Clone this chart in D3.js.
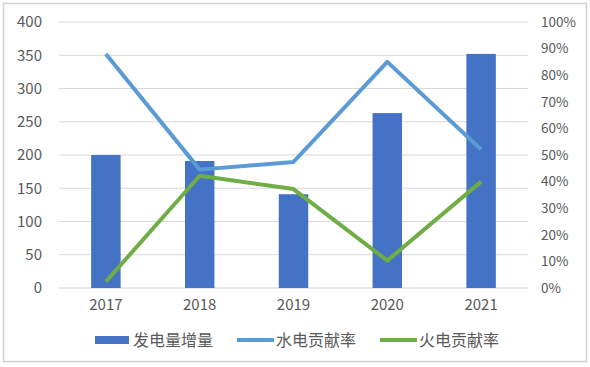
<!DOCTYPE html>
<html><head><meta charset="utf-8">
<script src="https://cdn.jsdelivr.net/npm/d3@7"></script>
<style>body{margin:0;background:#fff}svg{display:block}</style>
</head><body>
<script>
const years = ["2017","2018","2019","2020","2021"];
const genIncrease = [200, 191, 141, 263, 352];
const hydroRate = [0.88, 0.445, 0.474, 0.85, 0.521];
const thermalRate = [0.024, 0.422, 0.372, 0.103, 0.40];
const leftTicks = [0,50,100,150,200,250,300,350,400];
const rightTicks = [0,0.1,0.2,0.3,0.4,0.5,0.6,0.7,0.8,0.9,1.0];
const seriesNames = ["发电量增量","水电贡献率","火电贡献率"];

const W=590,H=367;
const m={left:59,right:528,top:22,bottom:288};
const font='"Noto Sans CJK SC", "Liberation Sans", sans-serif';
const svg=d3.select("body").append("svg").attr("width",W).attr("height",H);
svg.append("rect").attr("x",3.5).attr("y",3.5).attr("width",583).attr("height",358)
  .attr("fill","#fff").attr("stroke","#d0d0d0").attr("stroke-width",1.5);

const x=d3.scaleBand().domain(years).range([m.left,m.right]).paddingInner(0.686).paddingOuter(0.343);
const xc=d3.scaleBand().domain(years).range([m.left,m.right]);
const yL=d3.scaleLinear().domain([0,400]).range([m.bottom,m.top]);
const yR=d3.scaleLinear().domain([0,1]).range([m.bottom,m.top]);

// gridlines
svg.append("g").selectAll("line").data(leftTicks).join("line")
  .attr("x1",m.left).attr("x2",m.right).attr("y1",d=>yL(d)).attr("y2",d=>yL(d))
  .attr("stroke",d=>d===0?"#d0d0d0":"#d9d9d9").attr("stroke-width",1);

// left axis
const gl=svg.append("g").attr("transform",`translate(${m.left-17},0)`)
  .call(d3.axisLeft(yL).tickValues(leftTicks).tickSize(0).tickPadding(0));
gl.select(".domain").remove();
gl.selectAll("text").attr("font-family",font).attr("font-size",15).attr("fill","#595959");

// right axis
const gr=svg.append("g").attr("transform",`translate(${m.right+13},0)`)
  .call(d3.axisRight(yR).tickValues(rightTicks).tickFormat(d3.format(".0%")).tickSize(0).tickPadding(0));
gr.select(".domain").remove();
gr.selectAll("text").attr("font-family",font).attr("font-size",13.5).attr("fill","#595959");

// x axis
const gx=svg.append("g").attr("transform",`translate(0,${m.bottom+11})`)
  .call(d3.axisBottom(xc).tickSize(0).tickPadding(0));
gx.select(".domain").remove();
gx.selectAll("text").attr("font-family",font).attr("font-size",15).attr("fill","#595959");

// bars
svg.append("g").selectAll("rect").data(genIncrease).join("rect")
  .attr("x",(d,i)=>x(years[i])).attr("width",x.bandwidth())
  .attr("y",d=>yL(d)).attr("height",d=>m.bottom-yL(d)).attr("fill","#4472C4");

const line=d3.line().x((d,i)=>xc(years[i])+xc.bandwidth()/2).y(d=>yR(d));
svg.append("path").datum(hydroRate).attr("d",line).attr("fill","none")
  .attr("stroke","#5B9BD5").attr("stroke-width",4).attr("stroke-linejoin","round");
svg.append("path").datum(thermalRate).attr("d",line).attr("fill","none")
  .attr("stroke","#70AD47").attr("stroke-width",4).attr("stroke-linejoin","round");

// legend
const lg=svg.append("g");
const ly=340;
const items=[{x:95,type:"bar",c:"#4472C4"},{x:237,type:"line",c:"#5B9BD5"},{x:380,type:"line",c:"#70AD47"}];
items.forEach((it,i)=>{
  if(it.type==="bar") lg.append("rect").attr("x",it.x).attr("y",ly-4).attr("width",34).attr("height",8).attr("fill",it.c);
  else lg.append("line").attr("x1",it.x).attr("x2",it.x+37).attr("y1",ly).attr("y2",ly).attr("stroke",it.c).attr("stroke-width",4);
  lg.append("text").attr("x",it.x+(it.type==="bar"?38:39)).attr("y",ly).attr("dy","0.35em")
    .attr("font-family",font).attr("font-size",16).attr("fill","#595959").text(seriesNames[i]);
});
</script>
</body></html>
